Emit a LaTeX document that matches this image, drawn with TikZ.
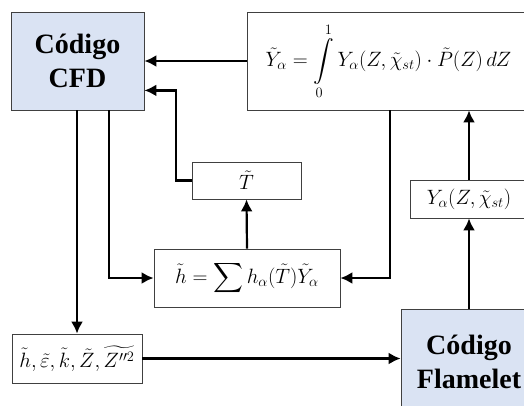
\documentclass[tikz,border=0pt]{standalone}
\usepackage{amsmath}
\usepackage{fontspec}
\setmainfont{Liberation Serif}
\usetikzlibrary{arrows.meta}
\definecolor{codeblue}{RGB}{218,227,243}
\tikzset{
  box/.style={draw=black!75,line width=0.8pt,inner sep=0pt,font=\fontsize{21}{25}\selectfont},
  codebox/.style={box,fill=codeblue,align=center,font=\fontsize{28}{34}\selectfont\bfseries},
  flow/.style={line width=2.2pt}
}
\begin{document}
\begin{tikzpicture}[x=1pt,y=-1pt,>={Latex[length=12pt,width=12pt]}]
  \useasboundingbox (0,0) rectangle (524,405);
  \node[codebox,minimum width=133,minimum height=98] (cfd) at (77.5,61) {Código\\CFD};
  \node[box,font=\fontsize{20}{24}\selectfont,minimum width=283,minimum height=98] (yint) at (388.5,61)
    {$\displaystyle\tilde Y_\alpha=\int\limits_0^1 Y_\alpha(Z,\tilde\chi_{st})\cdot\tilde P(Z)\,dZ$};
  \node[box,minimum width=109,minimum height=37] (tt) at (246.5,180.5) {$\tilde T$};
  \node[box,minimum width=186,minimum height=58] (hh) at (247,278)
    {$\displaystyle\tilde h=\sum h_\alpha(\tilde T)\tilde Y_\alpha$};
  \node[box,minimum width=118,minimum height=38] (ya) at (469,199) {$Y_\alpha(Z,\tilde\chi_{st})$};
  \node[box,minimum width=130,minimum height=49] (vars) at (77,358.5)
    {$\tilde h,\tilde\varepsilon,\tilde k,\tilde Z,\widetilde{Z^{\prime\prime2}}$};
  \node[codebox,minimum width=136,minimum height=106] (fl) at (469,362) {Código\\Flamelet};

  \draw[flow,->] (yint.west) -- (cfd.east);
  \draw[flow,->] (tt.west) -- ++(-16,0) |- ([yshift=20pt]cfd.south east);
  \draw[flow,->] (vars.north |- cfd.south) -- (vars.north);
  \draw[flow,->] ([xshift=31.5pt]cfd.south) |- (hh.west);
  \draw[flow,->] (hh.north) -- (tt.south);
  \draw[flow,->] ([xshift=1.5pt]yint.south) |- (hh.east);
  \draw[flow,->] (ya.north) -- (ya.north |- yint.south);
  \draw[flow,->] (fl.north) -- (ya.south);
  \draw[flow,->] (vars.east) -- (vars.east -| fl.west);
\end{tikzpicture}
\end{document}
